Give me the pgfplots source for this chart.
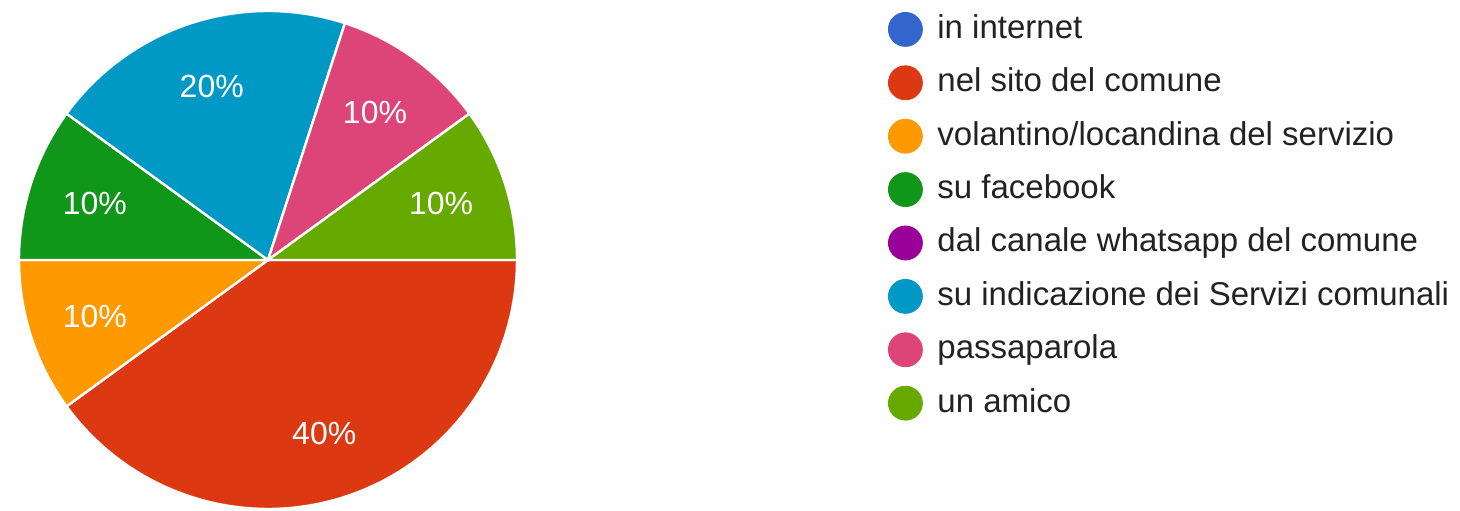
\documentclass[border=0pt]{standalone}
\usepackage{fontspec}
\setmainfont{Liberation Sans}
\usepackage{pgfplots}
\pgfplotsset{compat=1.18}
\definecolor{cInternet}{HTML}{3366CC}
\definecolor{cSito}{HTML}{DC3912}
\definecolor{cVolantino}{HTML}{FF9900}
\definecolor{cFacebook}{HTML}{109618}
\definecolor{cWhatsapp}{HTML}{990099}
\definecolor{cServizi}{HTML}{0099C6}
\definecolor{cPassa}{HTML}{DD4477}
\definecolor{cAmico}{HTML}{66AA00}
\definecolor{legtext}{HTML}{222222}
% pie geometry (in picture pixels)
\def\cx{268}\def\cy{249}\def\R{249}\def\rl{182}
\def\cum{0}
\newcommand{\slice}[2]{% colour, percent
  \ifdim #2pt>0pt
    \pgfmathsetmacro{\sa}{\cum}%
    \pgfmathsetmacro{\sb}{\cum-3.6*#2}%
    \pgfmathsetmacro{\sm}{(\sa+\sb)/2}%
    \pgfmathsetmacro{\lx}{\cx+\rl*cos(\sm)}%
    \pgfmathsetmacro{\ly}{\cy+\rl*sin(\sm)}%
    \pgfmathtruncatemacro{\pc}{#2}%
    \edef\temp{\noexpand\addplot[fill=#1, draw=white, line width=1.2pt, domain=\sb:\sa, samples=90, forget plot]
      ({\cx+\R*cos(x)},{\cy+\R*sin(x)}) -- (axis cs:\cx,\cy) -- cycle;
      \noexpand\node[text=white, font=\noexpand\fontsize{16}{18}\noexpand\selectfont, anchor=center] at (axis cs:\lx,\ly) {\pc\noexpand\%};}%
    \temp
    \xdef\cum{\sb}%
  \fi}
\begin{document}
\begin{tikzpicture}
\begin{axis}[
  x=0.5pt, y=0.5pt,
  xmin=0, xmax=1460, ymin=0, ymax=509,
  hide axis, clip=false,
  legend style={at={(axis cs:888,497)}, anchor=north west, draw=none, fill=none,
    inner sep=0pt, row sep=9.7pt, column sep=7.5pt,
    font=\fontsize{16.5}{19}\selectfont, text=legtext,
    nodes={inner sep=0pt, text height=13pt, text depth=4pt}},
  legend cell align=left,
  legend image post style={mark size=8.5pt, mark options={draw=none}},
]
\path (rel axis cs:0,0) rectangle (rel axis cs:1,1);
% slices: percent values, clockwise from 3 o'clock
\slice{cInternet}{0}
\slice{cSito}{40}
\slice{cVolantino}{10}
\slice{cFacebook}{10}
\slice{cWhatsapp}{0}
\slice{cServizi}{20}
\slice{cPassa}{10}
\slice{cAmico}{10}
\addlegendimage{only marks, mark=*, color=cInternet}
\addlegendentry{in internet}
\addlegendimage{only marks, mark=*, color=cSito}
\addlegendentry{nel sito del comune}
\addlegendimage{only marks, mark=*, color=cVolantino}
\addlegendentry{volantino/locandina del servizio}
\addlegendimage{only marks, mark=*, color=cFacebook}
\addlegendentry{su facebook}
\addlegendimage{only marks, mark=*, color=cWhatsapp}
\addlegendentry{dal canale whatsapp del comune}
\addlegendimage{only marks, mark=*, color=cServizi}
\addlegendentry{su indicazione dei Servizi comunali}
\addlegendimage{only marks, mark=*, color=cPassa}
\addlegendentry{passaparola}
\addlegendimage{only marks, mark=*, color=cAmico}
\addlegendentry{un amico}
\end{axis}
\end{tikzpicture}
\end{document}
